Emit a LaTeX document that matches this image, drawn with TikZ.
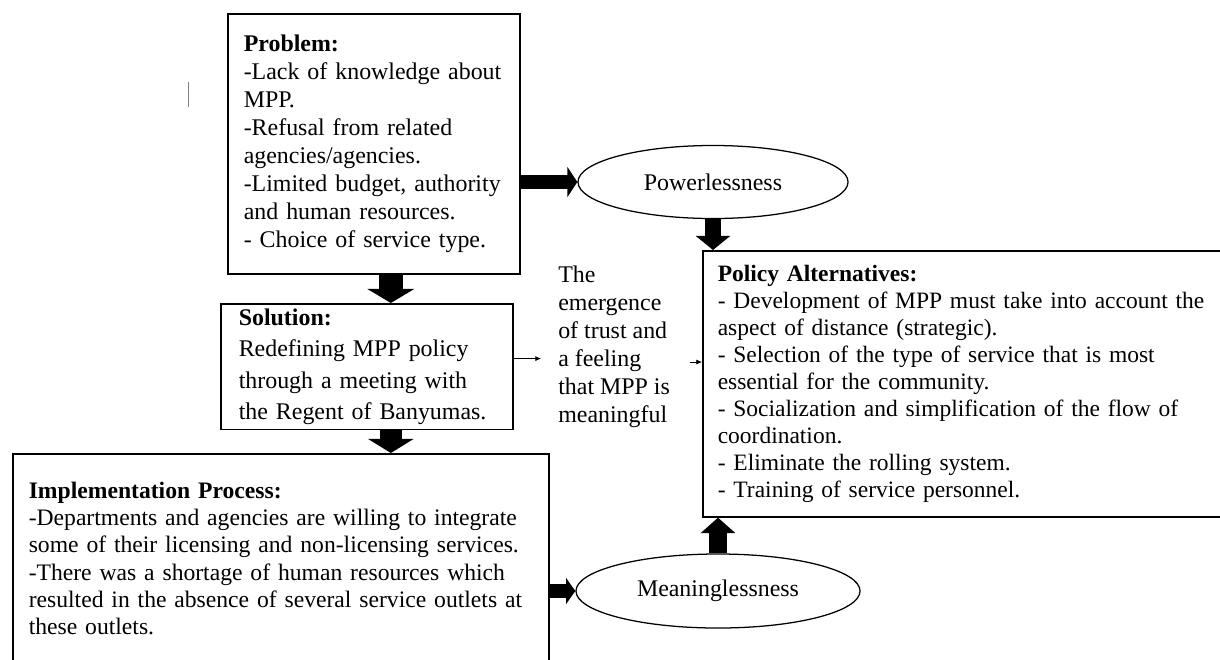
\documentclass[tikz,border=0pt]{standalone}
\usepackage{fontspec}
\setmainfont{Liberation Serif}
\usepackage{tikz}
\usetikzlibrary{shapes}
\usetikzlibrary{arrows.meta}

\begin{document}
\begin{tikzpicture}[x = .025cm, y = -.025cm,
	box/.style = {draw, line width = 1.1pt, anchor = north west, align = left, inner xsep = .4cm, font = \fontsize{17pt}{19.5pt}\selectfont},
	bubble/.style = {draw, line width = .9pt, ellipse, inner sep = 0pt, font = \fontsize{17pt}{19.5pt}\selectfont},
	blockarrow/.style n args = {3}{line width = #1, -{Triangle[width = #2, length = #3]}},
	pointer/.style = {line width = .5pt, -{Latex[length = 4pt, width = 3.5pt]}}]
	\useasboundingbox (0,0) rectangle (1220,659);
	\node[box, text width = 6.5cm, minimum height = 6.5cm, font = \fontsize{17pt}{19.9pt}\selectfont] (problem) at (227,13) {\textbf{Problem:}\\-Lack of knowledge about\\MPP.\\-Refusal from related\\agencies/agencies.\\-Limited budget, authority\\and human resources.\\- Choice of service type.};
	\node[box, text width = 6.4cm, inner xsep = .45cm, minimum height = 3.125cm, font = \fontsize{17pt}{22.4pt}\selectfont] (solution) at (220,303) {\textbf{Solution:}\\Redefining MPP policy\\through a meeting with\\the Regent of Banyumas.};
	\node[box, text width = 12.6cm, inner ysep = .7cm, font = \fontsize{16.8pt}{19.4pt}\selectfont] (impl) at (12,453) {\textbf{Implementation Process:}\\-Departments and agencies are willing to integrate\\some of their licensing and non-licensing services.\\-There was a shortage of human resources which\\resulted in the absence of several service outlets at\\these outlets.\rule[-1cm]{0pt}{1cm}};
	\node[box, text width = 12.7cm, inner xsep = .375cm, minimum height = 6.65cm, font = \fontsize{16.7pt}{19.2pt}\selectfont] (policy) at (702,250) {\textbf{Policy Alternatives:}\\- Development of MPP must take into account the\\aspect of distance (strategic).\\- Selection of the type of service that is most\\essential for the community.\\- Socialization and simplification of the flow of\\coordination.\\- Eliminate the rolling system.\\- Training of service personnel.};
	\node[anchor = north west, align = left, inner xsep = .425cm, inner ysep = 0pt, font = \fontsize{17pt}{19.9pt}\selectfont] (trust) at (541,266) {The\\emergence\\of trust and\\a feeling\\that MPP is\\meaningful};
	\node[bubble, minimum width = 6.75cm, minimum height = 1.825cm] (power) at (713,182) {Powerlessness};
	\node[bubble, minimum width = 7.1cm, minimum height = 1.85cm] (mean) at (718,591) {Meaninglessness};
%
	\draw[blockarrow = {10pt}{21pt}{7pt}] (problem.east |- power.west) -- (power.west);
	\draw[blockarrow = {17pt}{33pt}{10pt}] ([xshift = .425cm]problem.south) -- ([xshift = .425cm]problem.south |- solution.north);
	\draw[blockarrow = {16pt}{32pt}{10pt}] ([xshift = .6cm]solution.south) -- ([xshift = .6cm]solution.south |- impl.north);
	\draw[blockarrow = {12pt}{24pt}{10pt}] (power.south) -- (power.south |- policy.north);
	\draw[blockarrow = {12.5pt}{24pt}{11pt}] (mean.north) -- (mean.north |- policy.south);
	\draw[blockarrow = {10.5pt}{18pt}{6.5pt}] (impl.east |- mean.west) -- (mean.west);
%
	\draw[pointer] ([yshift = .2cm]solution.east) -- ([yshift = .2cm]solution.east -| trust.west);
	\coordinate (stub) at (690,362);
	\draw[pointer] (stub) -- (stub -| policy.west);
	\draw[gray, line width = .6pt] (188,82) -- (188,107);
\end{tikzpicture}
\end{document}
